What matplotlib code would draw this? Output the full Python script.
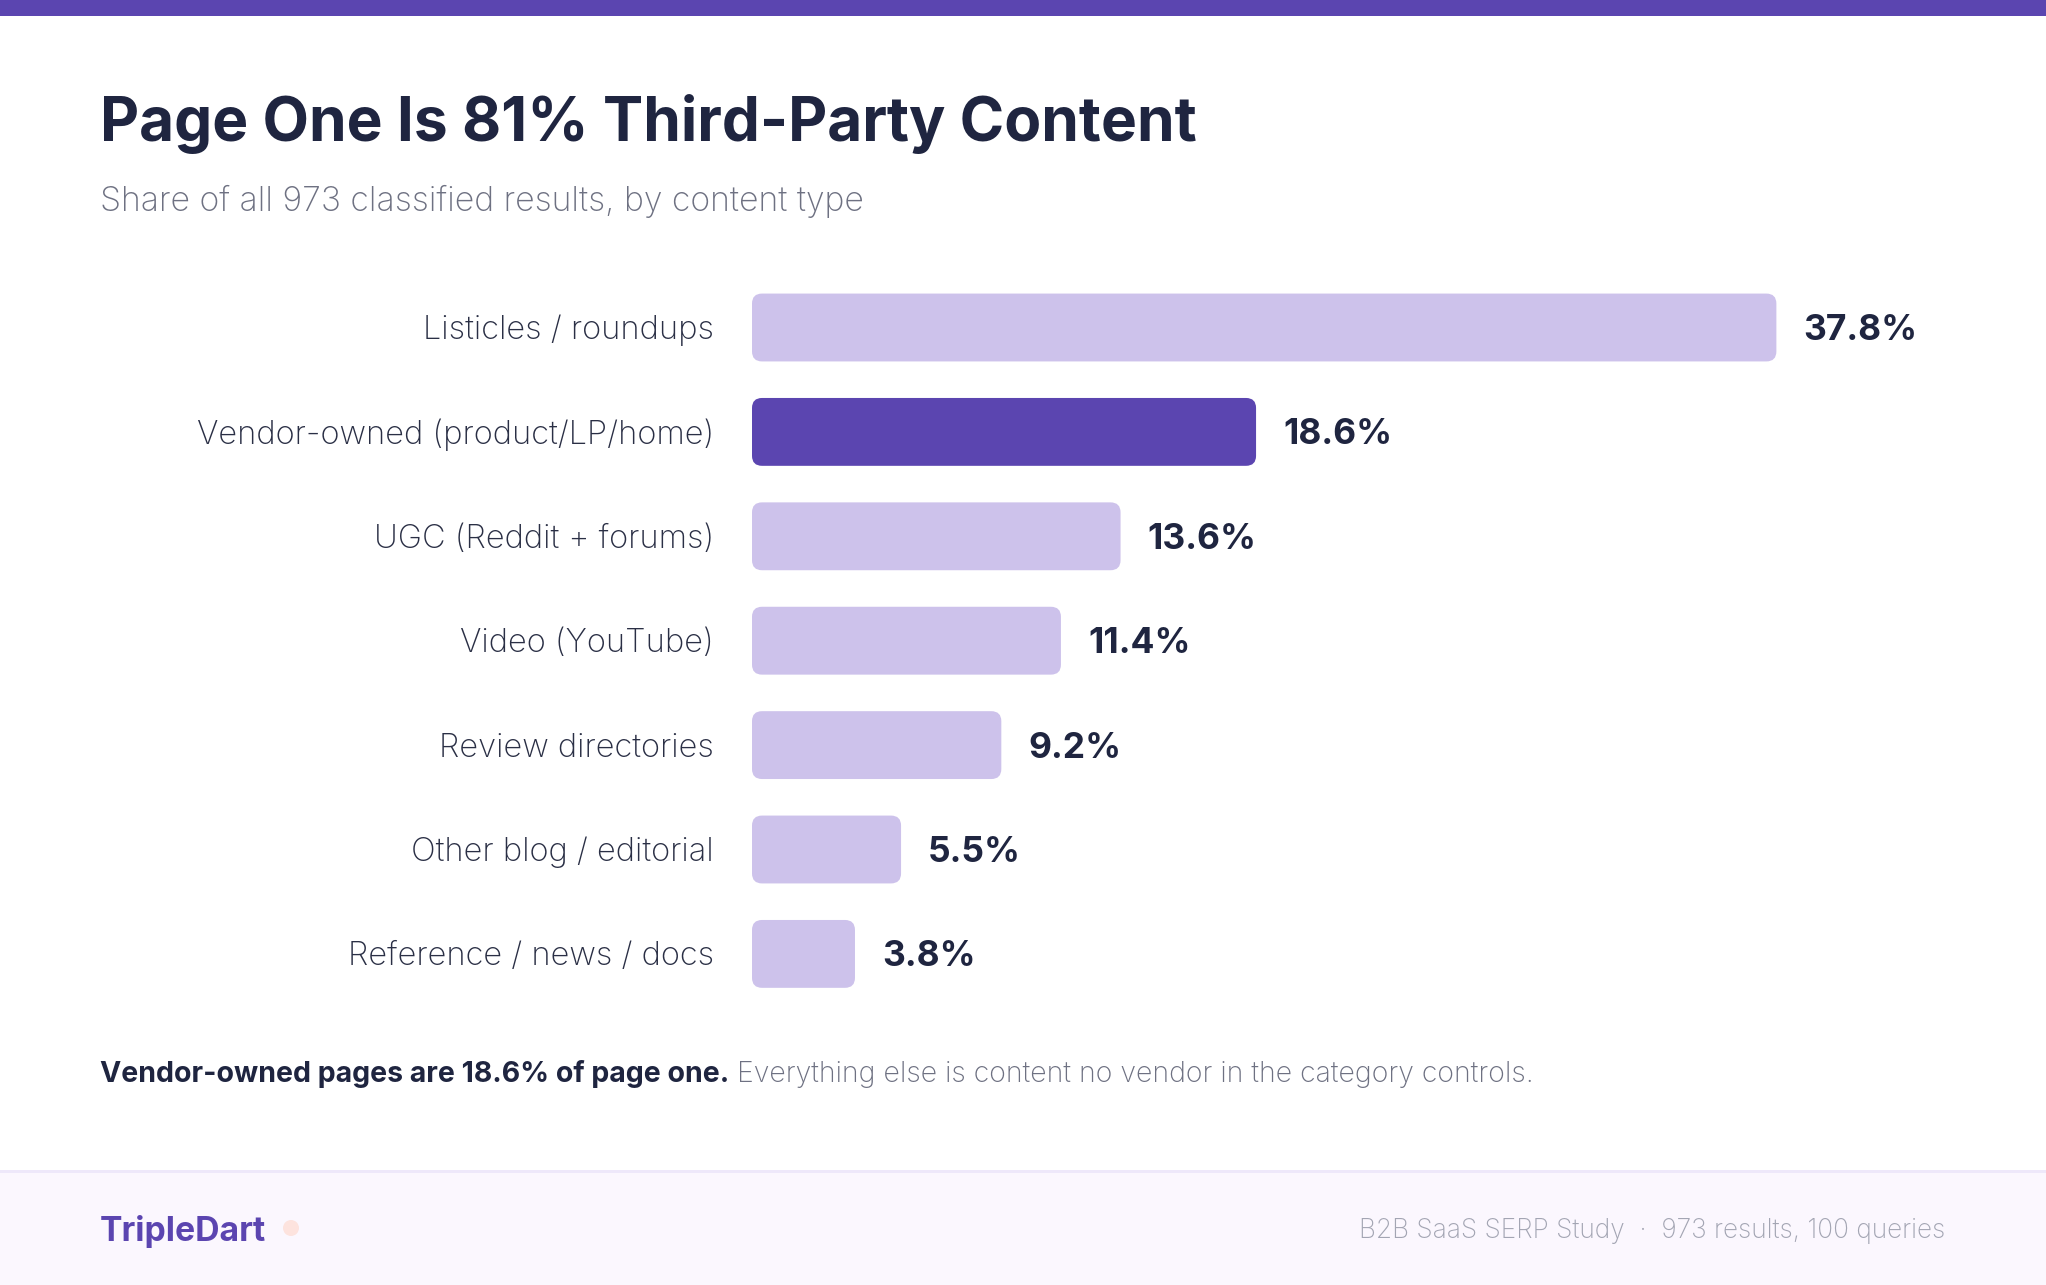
import matplotlib
matplotlib.use("Agg")
import matplotlib.pyplot as plt
from matplotlib.patches import FancyBboxPatch, Rectangle, Circle

# data
categories = ["Listicles / roundups", "Vendor-owned (product/LP/home)",
              "UGC (Reddit + forums)", "Video (YouTube)", "Review directories",
              "Other blog / editorial", "Reference / news / docs"]
shares = [37.8, 18.6, 13.6, 11.4, 9.2, 5.5, 3.8]
highlight = "Vendor-owned (product/LP/home)"

title = "Page One Is 81% Third-Party Content"
subtitle = "Share of all 973 classified results, by content type"
note_bold = "Vendor-owned pages are 18.6% of page one."
note_rest = " Everything else is content no vendor in the category controls."
brand = "TripleDart"
source = "B2B SaaS SERP Study  ·  973 results, 100 queries"

PURPLE = "#5B45B0"
LIGHT = "#CDC2EB"
DARK = "#1F2540"
GRAY = "#6E7182"
FONT = "Inter"

W, H = 2046, 1285
fig = plt.figure(figsize=(W / 100, H / 100), dpi=100)
fig.patch.set_facecolor("white")

# background layers in pixel coordinates
bg = fig.add_axes([0, 0, 1, 1])
bg.set_xlim(0, W)
bg.set_ylim(H, 0)
bg.axis("off")
bg.add_patch(Rectangle((0, 0), W, 16, color=PURPLE, lw=0))
bg.add_patch(Rectangle((0, 1171), W, H - 1171, color="#FBF7FE", lw=0))
bg.add_patch(Rectangle((0, 1170), W, 2.5, color="#EEE8FA", lw=0))
bg.add_patch(Circle((291, 1228), 8, color="#FDE3DE", lw=0))

bg.text(100, 124, title, fontsize=43.5, fontweight="bold", color=DARK,
        family=FONT, va="center", ha="left")
bg.text(100, 201, subtitle, fontsize=24.3, fontweight="light", color=GRAY,
        family=FONT, va="center", ha="left")

t = bg.text(100, 1074, note_bold, fontsize=20.5, fontweight="bold", color=DARK,
            family=FONT, va="center", ha="left")
fig.canvas.draw()
bb = t.get_window_extent()
bg.text(100 + bb.width, 1074, note_rest, fontsize=20.5, fontweight="light",
        color=GRAY, family=FONT, va="center", ha="left")

bg.text(100, 1231, brand, fontsize=24.3, fontweight="bold", color=PURPLE,
        family=FONT, va="center", ha="left")
bg.text(1945, 1231, source, fontsize=18.9, fontweight="light", color="#A3A5B3",
        family=FONT, va="center", ha="right")

# bar chart axis: x from 752px, 27.1 px per unit; rows every 104.4 px
x0, ppu = 752, 27.1
row0, step = 327.5, 104.4
n = len(categories)
ax_left = x0 / W
ax_width = (W - x0) / W
xmax = (W - x0) / ppu
ax_top = (row0 - step / 2) / H
ax_h = n * step / H
ax = fig.add_axes([ax_left, 1 - ax_top - ax_h, ax_width, ax_h])
ax.set_xlim(0, xmax)
ax.set_ylim(n - 0.5, -0.5)
ax.axis("off")

bar_h = 0.65
# corner radius in data units (approx 10 px)
rx = 10 / ppu
ry = 10 / step
dy = 3 / step  # small nudge so text sits on the bar centre
for i, (cat, val) in enumerate(zip(categories, shares)):
    col = PURPLE if cat == highlight else LIGHT
    p = FancyBboxPatch((rx, i - bar_h / 2 + ry), val - 2 * rx, bar_h - 2 * ry,
                       boxstyle="round,pad=%f,rounding_size=%f" % (rx, rx),
                       mutation_aspect=ry / rx, fc=col, ec="none")
    ax.add_patch(p)
    ax.text(val + 27 / ppu, i + dy, "%.1f%%" % val, fontsize=25.5,
            fontweight="bold", color=DARK, family=FONT, va="center", ha="left")
    ax.text(-38 / ppu, i + dy, cat, fontsize=23.5, fontweight="light",
            color="#2A2F45", family=FONT, va="center", ha="right",
            clip_on=False)

fig.savefig("out.png", dpi=100, facecolor="white")
